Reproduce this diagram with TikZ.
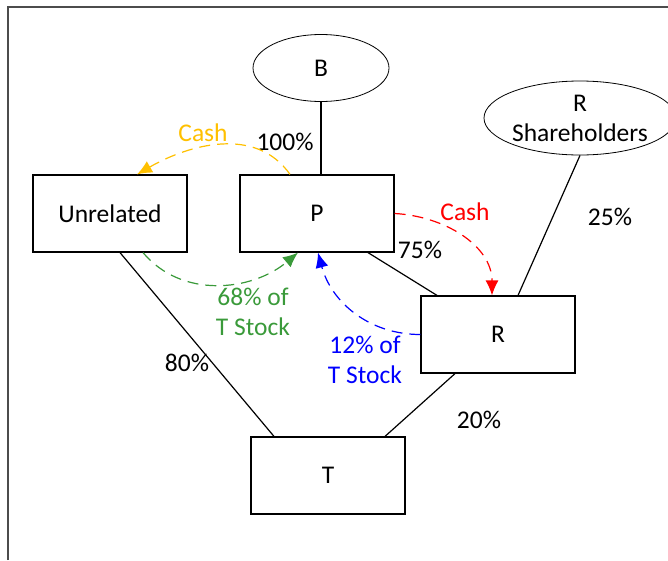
\documentclass[tikz,border=0pt]{standalone}
\usepackage{fontspec}
\setmainfont{Carlito}
\usepackage{xcolor}
\usepackage{tikz}
\usetikzlibrary{arrows.meta}
\usetikzlibrary{shapes.geometric}
\definecolor{cashyellow}{HTML}{FFC000}
\definecolor{stockgreen}{HTML}{3A9A3A}

\begin{document}
\begin{tikzpicture}[x=1pt,y=-1pt,
		font=\fontsize{25.5}{30}\selectfont,
		entity/.style={draw,line width=1.2pt,minimum width=154pt,minimum height=77pt,inner sep=0pt},
		holder/.style={draw,ellipse,line width=0.8pt,inner sep=0pt,align=center},
		own/.style={line width=1.2pt},
		flow/.style={line width=1.2pt,dash pattern=on 11pt off 7pt,-{Latex[length=15pt,width=13pt]}}]
		\useasboundingbox (0,0) rectangle (668,560);
		\draw[gray!60!black,line width=1.5pt] (8,560) -- (8,7) -- (668,7);
		% shareholders on top
		\node[holder,minimum width=136pt,minimum height=67pt] (B) at (321,68) {B};
		\node[holder,minimum width=170pt,minimum height=74pt] (RS) at (580,118) {R\\Shareholders};
		% corporations
		\node[entity] (U) at (110,213.5) {Unrelated};
		\node[entity] (P) at (317,213.5) {P};
		\node[entity] (R) at (498,334.5) {R};
		\node[entity] (T) at (328,475.5) {T};
		% ownership lines
		\draw[own] (B.south) -- (B.south |- P.north);
		\draw[own] ([xshift=10pt]U.south) -- ([xshift=-54pt]T.north);
		\draw[own] ([xshift=51pt]P.south) -- ([xshift=-61pt]R.north);
		\draw[own] ([xshift=-43pt]R.south) -- ([xshift=57pt]T.north);
		\draw[own] (RS.south) -- ([xshift=20pt]R.north);
		\node (n100) at (285,142) {100\%};
		\node (n75) at (420,250) {75\%};
		\node (n25) at (610,217) {25\%};
		\node (n80) at (187,363) {80\%};
		\node (n20) at (479,420) {20\%};
		% transfers
		\draw[flow,cashyellow] ([xshift=-27pt]P.north) to[out=125,in=30] ([xshift=27pt]U.north);
		\node[text=cashyellow] (cashU) at (203,133) {Cash};
		\draw[flow,red] (P.east) to[out=-3,in=90] ([xshift=-6pt]R.north);
		\node[text=red] (cashR) at (465,212) {Cash};
		\draw[flow,stockgreen] ([xshift=33pt]U.south) to[out=-50,in=-140] ([xshift=-19pt]P.south);
		\node[text=stockgreen,align=center] (stockU) at (253,312) {68\% of\\T Stock};
		\draw[flow,blue] (R.west) to[out=180,in=-75] ([xshift=1pt]P.south);
		\node[text=blue,align=center] (stockR) at (365,360) {12\% of\\T Stock};
	\end{tikzpicture}
\end{document}
